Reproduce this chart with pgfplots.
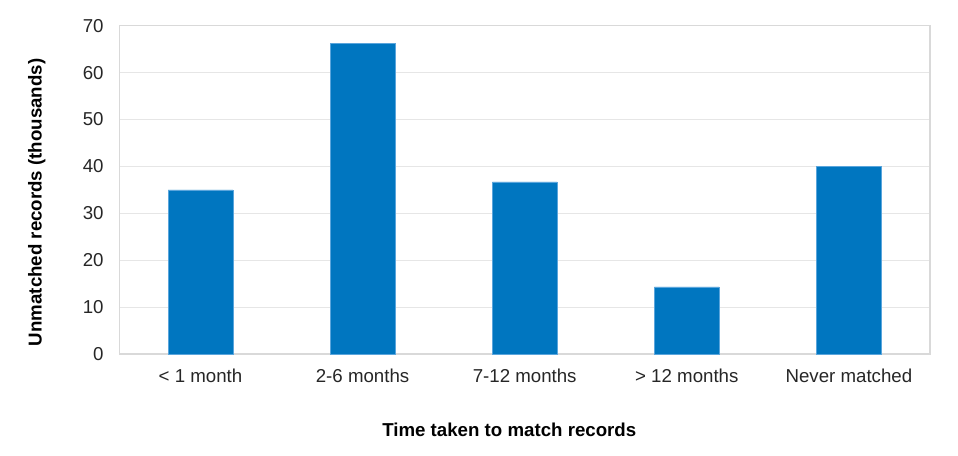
\documentclass[border=0pt]{standalone}
\usepackage{pgfplots}
\pgfplotsset{compat=1.18}
\usepackage{fontspec}
\setmainfont{Liberation Sans}
\definecolor{barblue}{HTML}{0076C0}
\definecolor{baredge}{HTML}{5AA5DC}
\definecolor{framegray}{HTML}{D9D9D9}
\definecolor{gridgray}{HTML}{E6E6E6}
\definecolor{txt}{HTML}{262626}

\begin{document}
\fontsize{14}{16}\selectfont
\begin{tikzpicture}[x=0.75pt,y=0.75pt]
\begin{axis}[
  scale only axis,
  width=607.5pt,
  height=246pt,
  xmin=-0.5, xmax=4.5,
  ymin=0, ymax=70,
  ytick={0,10,...,70},
  xtick=data,
  xticklabels={{< 1 month},{2-6 months},{7-12 months},{> 12 months},{Never matched}},
  /pgf/number format/assume math mode=true,
  tick style={draw=none},
  axis line style={framegray, line width=1pt},
  ymajorgrids,
  grid style={gridgray, line width=0.8pt},
  ticklabel style={font=\fontsize{14}{16}\selectfont, text=txt},
  yticklabel style={xshift=-7pt},
  xticklabel style={yshift=-6pt},
  xlabel={Time taken to match records},
  ylabel={Unmatched records (thousands)},
  label style={font=\bfseries\fontsize{14}{16}\selectfont, text=black},
  xlabel style={at={(axis description cs:0.481,-0.232)}, anchor=center},
  ylabel style={at={(axis description cs:-0.102,0.462)}, anchor=center},
  clip=false,
]
\addplot[ybar, bar width=0.4, fill=barblue, draw=baredge, line width=0.5pt] coordinates {
  (0,35.0)
  (1,66.2)
  (2,36.7)
  (3,14.3)
  (4,40.05)
};
\end{axis}
\path (current axis.south west) ++(-89.5pt,-75.75pt) coordinate (bbA);
\path (current axis.north east) ++(21pt,19.3pt) coordinate (bbB);
\path (bbA) rectangle (bbB);
\end{tikzpicture}
\end{document}
